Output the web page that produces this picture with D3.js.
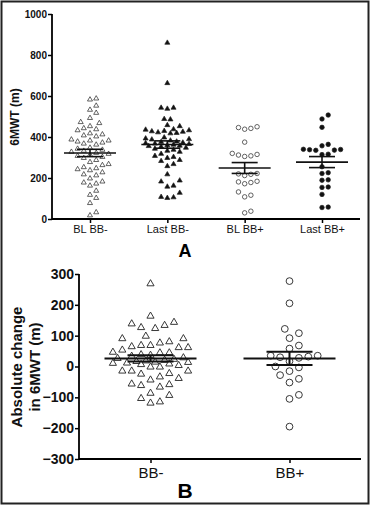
<!DOCTYPE html>
<html>
<head>
<meta charset="utf-8">
<script src="https://cdn.jsdelivr.net/npm/d3@7"></script>
<style>
  body { margin: 0; background: #fff; }
  svg { display: block; font-family: "Liberation Sans", Arial, sans-serif; }
</style>
</head>
<body>
<script>
// panel A: 6MWT per group (m)
var groupsA = ["BL BB-", "Last BB-", "BL BB+", "Last BB+"];
var blBBminus = [590, 585, 555, 535, 520, 495, 475, 470, 455, 445, 440, 435, 420, 415, 410, 405,
  390, 385, 385, 380, 375, 370, 365, 350, 345, 340, 335, 330, 325, 320, 315, 310, 305, 300,
  290, 280, 270, 265, 255, 250, 245, 240, 230, 220, 215, 200, 185, 180, 175, 165, 140, 120,
  105, 80, 35, 20];
var lastBBminus = [862, 665, 545, 545, 540, 490, 488, 460, 455, 440, 438, 435, 432, 430, 428,
  425, 422, 420, 400, 395, 392, 390, 385, 380, 378, 375, 372, 370, 368, 365, 362, 360, 358,
  355, 350, 345, 340, 335, 330, 320, 310, 305, 300, 290, 285, 270, 260, 220, 190, 185, 165,
  160, 130, 110, 108, 105];
var blBBplus = [450, 442, 438, 446, 375, 315, 312, 305, 308, 320, 222, 218, 212, 220, 184, 178,
  172, 181, 132, 116, 108, 38, 30];
var lastBBplus = [507, 488, 447, 364, 357, 340, 338, 336, 339, 335, 316, 314, 255, 226, 222,
  191, 189, 156, 154, 120, 58, 56];
var ticksA = [0, 200, 400, 600, 800, 1000];

// panel B: absolute change in 6MWT (m)
var groupsB = ["BB-", "BB+"];
var changeBBminus = [270, 165, 145, 140, 135, 128, 125, 100, 92, 92, 82, 78, 70, 70, 66, 63, 63,
  55, 48, 46, 46, 40, 38, 35, 30, 28, 25, 22, 20, 18, 16, 15, 13, 12, 10, 8, 5, 0, 0, -13, -13,
  -13, -21, -23, -32, -37, -42, -55, -57, -60, -65, -85, -92, -102, -113, -117];
var changeBBplus = [277, 205, 122, 108, 92, 68, 58, 35, 32, 30, 35, 28, 17, -3, 0, -15, -28, -40,
  -52, -92, -105, -195];
var ticksB = [-300, -200, -100, 0, 100, 200, 300];

var W = 371, H = 508;
var svg = d3.select("body").append("svg").attr("width", W).attr("height", H);

svg.append("rect")
  .attr("x", 1.5).attr("y", 1.5).attr("width", 367).attr("height", 502)
  .attr("fill", "none").attr("stroke", "#222").attr("stroke-width", 2);

// simple swarm: place sorted points as close to centre as they can go,
// never wider than maxOff (then take the least crowded slot)
function swarm(values, y, d, maxOff) {
  var placed = [];
  var out = values.map(function(v, i) { return {v: v, i: i}; })
    .sort(function(a, b) { return a.v - b.v; });
  out.forEach(function(p) {
    var py = y(p.v), best = null, bestD = -1;
    for (var k = 0; ; k++) {
      var off = (k % 2 ? 1 : -1) * Math.ceil(k / 2) * d * 0.5;
      if (Math.abs(off) > maxOff) break;
      var near = d3.min(placed, function(q) {
        var dx = q.dx - off, dy = q.py - py;
        return Math.sqrt(dx * dx + dy * dy);
      });
      if (near === undefined || near >= d) { best = off; break; }
      if (near > bestD) { bestD = near; best = off; }
    }
    p.dx = best; p.py = py; placed.push(p);
  });
  return out;
}

function stats(values) {
  var m = d3.mean(values);
  var sem = d3.deviation(values) / Math.sqrt(values.length);
  return {mean: m, sem: sem};
}

function drawPanel(cfg) {
  var g = svg.append("g");
  var x = d3.scalePoint().domain(cfg.groups).range(cfg.xr).padding(0);
  var y = d3.scaleLinear().domain(cfg.domain).range(cfg.yr);

  g.append("g")
    .attr("transform", "translate(" + cfg.left + ",0)")
    .call(d3.axisLeft(y).tickValues(cfg.ticks).tickFormat(d3.format("d")).tickSize(cfg.tick).tickPadding(1))
    .call(function(a) {
      a.select(".domain").attr("stroke-width", 1.8).attr("d", "M0," + cfg.yr[1] + "V" + cfg.yr[0]);
      a.selectAll(".tick line").attr("stroke-width", 1.5);
      a.selectAll("text").attr("font-size", cfg.tickFont).attr("font-weight", "bold").attr("fill", "#111");
    });

  var xa = d3.axisBottom(x).tickSize(cfg.tick).tickPadding(cfg.catPad);
  g.append("g")
    .attr("transform", "translate(0," + cfg.yr[0] + ")")
    .call(xa)
    .call(function(a) {
      a.select(".domain").attr("stroke-width", 1.8).attr("d", "M" + cfg.left + ",0H" + cfg.right);
      a.selectAll(".tick line").attr("stroke-width", 1.5);
      a.selectAll("text").attr("font-size", cfg.catFont).attr("fill", "#111");
    });

  cfg.series.forEach(function(s, i) {
    var cx = x(cfg.groups[i]);
    var pts = swarm(s.values, y, cfg.gap, cfg.meanW - 4);
    var tri = s.shape === "tri";
    var sym = d3.symbol().type(tri ? d3.symbolTriangle : d3.symbolCircle)
      .size(tri ? cfg.triSize : cfg.dotSize);
    g.append("g").selectAll("path").data(pts).enter().append("path")
      .attr("transform", function(p) {
        return "translate(" + (cx + p.dx) + "," + (p.py + (tri ? 0.5 : 0)) + ")";
      })
      .attr("d", sym)
      .attr("fill", s.filled ? "#111" : "#fff")
      .attr("stroke", "#222")
      .attr("stroke-width", cfg.symStroke);

    var st = stats(s.values);
    var lines = [
      [cx - cfg.meanW, y(st.mean), cx + cfg.meanW, y(st.mean)],
      [cx - cfg.capW, y(st.mean + st.sem), cx + cfg.capW, y(st.mean + st.sem)],
      [cx - cfg.capW, y(st.mean - st.sem), cx + cfg.capW, y(st.mean - st.sem)],
      [cx, y(st.mean + st.sem), cx, y(st.mean - st.sem)]
    ];
    g.append("g").selectAll("line").data(lines).enter().append("line")
      .attr("x1", function(l) { return l[0]; }).attr("y1", function(l) { return l[1]; })
      .attr("x2", function(l) { return l[2]; }).attr("y2", function(l) { return l[3]; })
      .attr("stroke", "#111").attr("stroke-width", cfg.meanStroke);
  });
  return g;
}

drawPanel({
  groups: groupsA, xr: [90, 322], left: 52, right: 360,
  domain: [0, 1000], yr: [219, 14], ticks: ticksA, tick: 4, catPad: 2,
  tickFont: 10, catFont: 11, gap: 6.2, triSize: 11, dotSize: 16, symStroke: 0.7,
  meanW: 26, capW: 13, meanStroke: 1.6,
  series: [
    {values: blBBminus, shape: "tri", filled: false},
    {values: lastBBminus, shape: "tri", filled: true},
    {values: blBBplus, shape: "circle", filled: false},
    {values: lastBBplus, shape: "circle", filled: true}
  ]
});

drawPanel({
  groups: groupsB, xr: [150.5, 289.5], left: 79, right: 361,
  domain: [-300, 300], yr: [459, 274], ticks: ticksB, tick: 4, catPad: 4,
  tickFont: 14, catFont: 15, gap: 9.4, triSize: 22, dotSize: 36, symStroke: 0.9,
  meanW: 46, capW: 23, meanStroke: 2,
  series: [
    {values: changeBBminus, shape: "tri", filled: false},
    {values: changeBBplus, shape: "circle", filled: false}
  ]
});

// axis titles and panel letters
svg.append("text")
  .attr("transform", "translate(19,117) rotate(-90)")
  .attr("text-anchor", "middle").attr("font-size", 12).attr("font-weight", "bold")
  .attr("fill", "#111").text("6MWT (m)");

svg.append("text")
  .attr("transform", "translate(22,367) rotate(-90)")
  .attr("text-anchor", "middle").attr("font-size", 15).attr("font-weight", "bold")
  .attr("fill", "#111").text("Absolute change");
svg.append("text")
  .attr("transform", "translate(40,367) rotate(-90)")
  .attr("text-anchor", "middle").attr("font-size", 15).attr("font-weight", "bold")
  .attr("fill", "#111").text("in 6MWT (m)");

svg.append("text")
  .attr("x", 185).attr("y", 257).attr("text-anchor", "middle")
  .attr("font-size", 18).attr("font-weight", "bold").attr("fill", "#000").text("A");
svg.append("text")
  .attr("x", 185).attr("y", 498).attr("text-anchor", "middle")
  .attr("font-size", 21).attr("font-weight", "bold").attr("fill", "#000").text("B");
</script>
</body>
</html>
